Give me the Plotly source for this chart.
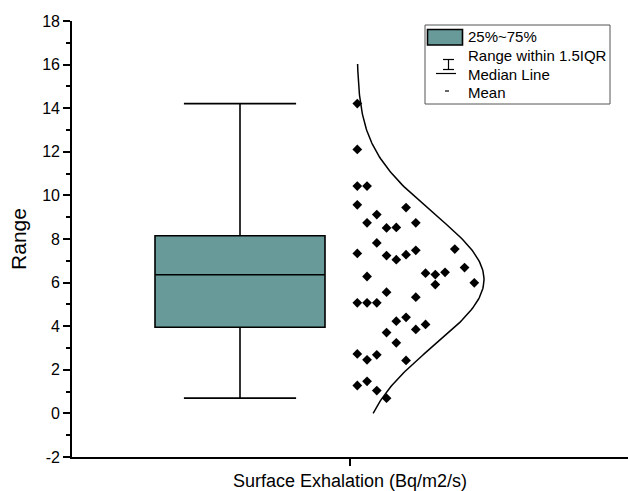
import numpy as np
import plotly.graph_objects as go

# ---------------- data ----------------
category = "Surface Exhalation (Bq/m2/s)"
values = [14.21, 12.11, 10.43, 10.43, 9.57, 9.44, 9.12, 8.74, 8.51, 8.53, 8.74,
          7.82, 7.34, 7.24, 7.05, 7.28, 7.48, 7.54, 6.28, 6.43, 6.37, 6.47, 6.69,
          5.91, 5.99, 5.56, 5.33, 5.07, 5.07, 5.07, 4.23, 4.41, 3.71, 3.85, 4.08,
          3.24, 2.73, 2.46, 2.69, 2.43, 1.28, 1.47, 1.05, 0.70]
jitter_slot = [0, 0, 0, 1, 0, 5, 2, 1, 3, 4, 6, 2, 0, 3, 4, 5, 6, 10, 1, 7, 8, 9, 11,
               8, 12, 3, 6, 0, 1, 2, 4, 5, 3, 6, 7, 4, 0, 1, 2, 5, 0, 1, 2, 3]
box_q1 = 3.95
box_median = 6.36
box_q3 = 8.15
box_lower = 0.70
box_upper = 14.21
curve_ymin = 0.0
curve_ymax = 16.03
legend_labels = ["25%~75%", "Range within 1.5IQR", "Median Line", "Mean"]
y_tickvals = list(range(-2, 19, 2))
y_ticktext = [str(v) for v in y_tickvals]

# ---------------- layout geometry (x axis in pixel-like units, tick at 0) ----------------
BOX_X = -110
BOX_W = 170
PT_X0 = 7.3
PT_DX = 9.75
CURVE_BASE = 7
CURVE_AMP = 127

FONT = "Liberation Sans, Arial, sans-serif"
TEAL = "#679A99"

fig = go.Figure()

fig.add_trace(go.Box(
    x=[BOX_X], q1=[box_q1], median=[box_median], q3=[box_q3],
    lowerfence=[box_lower], upperfence=[box_upper],
    width=BOX_W, whiskerwidth=0.66, fillcolor=TEAL,
    line=dict(color="black", width=1.6), boxpoints=False,
    showlegend=False, hoverinfo="skip"))

xs = [PT_X0 + PT_DX * s for s in jitter_slot]
fig.add_trace(go.Scatter(
    x=xs, y=values, mode="markers",
    marker=dict(symbol="diamond", size=7.5, color="black"),
    showlegend=False, hoverinfo="skip"))

arr = np.array(values)
mu = arr.mean()
sd = arr.std(ddof=1)
cy = np.linspace(curve_ymin, curve_ymax, 200)
cx = CURVE_BASE + CURVE_AMP * np.exp(-0.5 * ((cy - mu) / sd) ** 2)
fig.add_trace(go.Scatter(
    x=cx, y=cy, mode="lines", line=dict(color="black", width=1.5),
    showlegend=False, hoverinfo="skip"))

# ---------------- manual legend ----------------
L, T, W, H = 72, 21, 556, 436

def px(x):
    return (x - L) / W

def py(y):
    return (T + H - y) / H

shapes = [
    dict(type="rect", xref="paper", yref="paper", x0=px(425), x1=px(610),
         y0=py(104), y1=py(25), line=dict(color="#555555", width=1),
         fillcolor="white", layer="below"),
    dict(type="rect", xref="paper", yref="paper", x0=px(427.5), x1=px(462.5),
         y0=py(45), y1=py(29.5), line=dict(color="black", width=1.6),
         fillcolor=TEAL),
    dict(type="line", xref="paper", yref="paper", x0=px(448.5), x1=px(448.5),
         y0=py(69.5), y1=py(59.5), line=dict(color="black", width=1.2)),
    dict(type="line", xref="paper", yref="paper", x0=px(443), x1=px(454),
         y0=py(59.5), y1=py(59.5), line=dict(color="black", width=1.2)),
    dict(type="line", xref="paper", yref="paper", x0=px(443), x1=px(454),
         y0=py(69.5), y1=py(69.5), line=dict(color="black", width=1.2)),
    dict(type="line", xref="paper", yref="paper", x0=px(436), x1=px(456),
         y0=py(73.5), y1=py(73.5), line=dict(color="black", width=1.2)),
    dict(type="line", xref="paper", yref="paper", x0=px(445), x1=px(449),
         y0=py(91), y1=py(91), line=dict(color="black", width=1.2)),
]
annotations = []
for lab, yy in zip(legend_labels, [36.7, 55.7, 74, 92.7]):
    annotations.append(dict(text=lab, xref="paper", yref="paper", x=px(466),
                            y=py(yy), xanchor="left", yanchor="middle",
                            showarrow=False,
                            font=dict(family=FONT, size=15, color="black")))

fig.update_layout(
    width=628, height=491,
    margin=dict(l=L, r=0, t=T, b=491 - T - H, autoexpand=False),
    paper_bgcolor="white", plot_bgcolor="white",
    shapes=shapes, annotations=annotations,
    font=dict(family=FONT, color="black"),
    xaxis=dict(range=[-278, 278], tickvals=[0], ticktext=[category],
               ticks="outside", ticklen=7, tickwidth=1.5, tickcolor="black",
               showline=True, linecolor="black", linewidth=1.6,
               showgrid=False, zeroline=False, automargin=False,
               tickfont=dict(family=FONT, size=18, color="black")),
    yaxis=dict(range=[-2, 18], tickvals=y_tickvals, ticktext=y_ticktext,
               ticks="outside", ticklen=7, tickwidth=1.5, tickcolor="black",
               minor=dict(ticks="outside", ticklen=4, dtick=1, tickcolor="black", tickwidth=1.5),
               showline=True, linecolor="black", linewidth=1.6,
               showgrid=False, zeroline=False, automargin=False,
               tickfont=dict(family=FONT, size=16, color="black"),
               title=dict(text="Range", font=dict(family=FONT, size=21, color="black"),
                          standoff=10)),
)

fig.write_html("out.html", config={"displayModeBar": False},
               post_script="document.body.style.margin='0';")
